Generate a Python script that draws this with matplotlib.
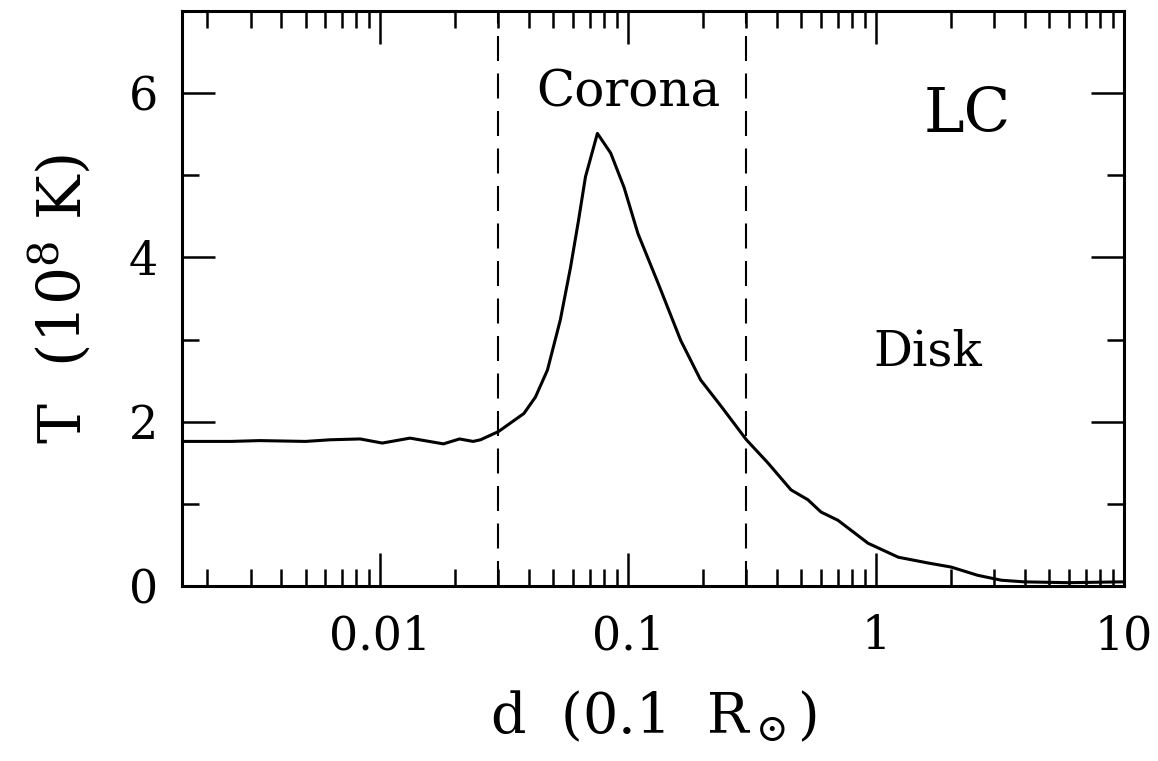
import numpy as np
import matplotlib
matplotlib.use("Agg")
import matplotlib.pyplot as plt
from matplotlib.ticker import LogLocator, MultipleLocator, FixedLocator, FixedFormatter

# temperature profile across the loop (d in units of 0.1 solar radii, T in 1e8 K)
d = [0.00158, 0.0025, 0.00327, 0.0050, 0.0063, 0.0083, 0.0102, 0.0132, 0.0180,
     0.0209, 0.0237, 0.0254, 0.0300, 0.0380, 0.0423, 0.0473, 0.0533, 0.0586,
     0.0631, 0.0673, 0.0752, 0.0851, 0.0964, 0.1096, 0.132, 0.163, 0.196,
     0.237, 0.300, 0.366, 0.454, 0.531, 0.600, 0.702, 0.929, 1.23,
     1.62, 2.01, 2.57, 3.20, 3.96, 5.97, 9.77, 10.0]
T = [1.76, 1.76, 1.77, 1.76, 1.78, 1.79, 1.74, 1.80, 1.73,
     1.79, 1.76, 1.78, 1.88, 2.10, 2.30, 2.63, 3.24, 3.88,
     4.45, 4.98, 5.51, 5.27, 4.85, 4.29, 3.69, 2.99, 2.51,
     2.19, 1.78, 1.50, 1.17, 1.05, 0.90, 0.80, 0.52, 0.35,
     0.28, 0.23, 0.13, 0.07, 0.05, 0.04, 0.05, 0.05]

# boundaries of the corona region
bounds = [0.03, 0.3]

xticks = [0.01, 0.1, 1, 10]
xticklabels = ["0.01", "0.1", "1", "10"]

plt.rcParams['font.family'] = 'DejaVu Serif'
plt.rcParams['mathtext.fontset'] = 'dejavuserif'

fig = plt.figure(figsize=(11.58, 7.61), dpi=100)
ax = fig.add_axes([0.157, 0.230, 0.8136, 0.7555])

ax.plot(d, T, color='black', lw=2.2)
for b in bounds:
    ax.axvline(b, color='black', lw=1.5, dashes=(12, 6))

ax.set_xscale('log')
ax.set_xlim(10 ** -2.8, 10)
ax.set_ylim(0, 7)

ax.xaxis.set_major_locator(FixedLocator(xticks))
ax.xaxis.set_major_formatter(FixedFormatter(xticklabels))
ax.xaxis.set_minor_locator(LogLocator(base=10, subs=np.arange(2, 10)))
ax.xaxis.set_minor_formatter(FixedFormatter([]))
ax.yaxis.set_major_locator(MultipleLocator(2))
ax.yaxis.set_minor_locator(MultipleLocator(1))

ax.tick_params(which='both', direction='in', top=True, right=True, width=1.8,
               labelsize=33)
ax.tick_params(axis='x', which='major', pad=20)
ax.tick_params(axis='y', which='major', pad=17)
ax.tick_params(which='major', length=24)
ax.tick_params(which='minor', length=12)
for s in ax.spines.values():
    s.set_linewidth(2.2)

ax.set_xlabel(r'd  (0.1  R$_\odot$)', fontsize=40, labelpad=22)
ax.set_ylabel(r'T  (10$^8$ K)', fontsize=43, labelpad=26)

ax.text(0.1, 6.01, 'Corona', fontsize=36, ha='center', va='center')
ax.text(2.33, 5.73, 'LC', fontsize=44, ha='center', va='center')
ax.text(1.61, 2.85, 'Disk', fontsize=35, ha='center', va='center')

fig.savefig('out.png', dpi=100)
